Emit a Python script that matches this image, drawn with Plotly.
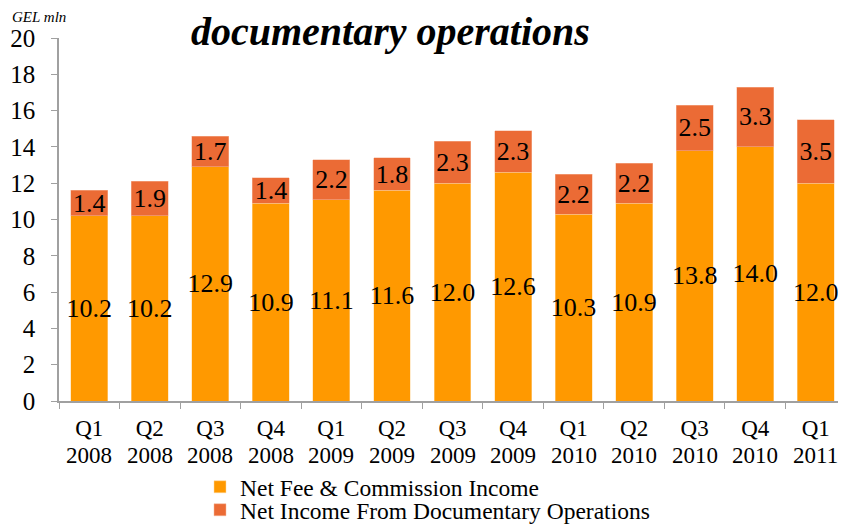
import plotly.graph_objects as go

quarters = ["Q1", "Q2", "Q3", "Q4", "Q1", "Q2", "Q3", "Q4", "Q1", "Q2", "Q3", "Q4", "Q1"]
years = ["2008", "2008", "2008", "2008", "2009", "2009", "2009", "2009",
         "2010", "2010", "2010", "2010", "2011"]
fee_income = [10.2, 10.2, 12.9, 10.9, 11.1, 11.6, 12.0, 12.6, 10.3, 10.9, 13.8, 14.0, 12.0]
doc_income = [1.4, 1.9, 1.7, 1.4, 2.2, 1.8, 2.3, 2.3, 2.2, 2.2, 2.5, 3.3, 3.5]

categories = [q + " " + y for q, y in zip(quarters, years)]
serif = "Liberation Serif"

# the page body has an 8px margin, so the figure is drawn 8px smaller
W, H = 838, 517

fig = go.Figure()
fig.add_trace(go.Bar(
    name="Net Fee & Commission Income", x=categories, y=fee_income,
    marker=dict(color="#FF9900", line=dict(width=0.5, color="#FFD9A0")),
    text=[f"{v:.1f}" for v in fee_income], textposition="inside",
    insidetextanchor="middle", textangle=0, constraintext="none",
    textfont=dict(family=serif, size=26, color="black"),
    legend="legend",
))
fig.add_trace(go.Bar(
    name="Net Income From Documentary Operations", x=categories, y=doc_income,
    marker=dict(color="#EB6B35", line=dict(width=0.5, color="#F5B89C")),
    text=[f"{v:.1f}" for v in doc_income], textposition="inside",
    insidetextanchor="middle", textangle=0, constraintext="none",
    textfont=dict(family=serif, size=26, color="black"),
    legend="legend2",
))

# year line under each quarter label
year_notes = [
    dict(text=y, x=c, xref="x", yref="paper", y=0, yanchor="middle", yshift=-54,
         showarrow=False, font=dict(family=serif, size=23, color="black"))
    for c, y in zip(categories, years)
]

legend_style = dict(
    xref="container", yref="container", xanchor="left", yanchor="top",
    orientation="v", font=dict(family=serif, size=23.5, color="black"),
    itemwidth=30, bgcolor="rgba(0,0,0,0)",
)

fig.update_layout(
    barmode="stack",
    bargap=0.39,
    width=W, height=H,
    margin=dict(l=51, r=0, t=30, b=124, autoexpand=False),
    plot_bgcolor="white", paper_bgcolor="white",
    font=dict(family=serif, color="black"),
    showlegend=True,
    legend=dict(x=192 / W, y=1 - 457 / H, **legend_style),
    legend2=dict(x=192 / W, y=1 - 480 / H, **legend_style),
    xaxis=dict(
        automargin=False,
        showline=True, linecolor="#A0A0A0", linewidth=1.5,
        ticks="outside", tickson="boundaries", ticklen=6, tickcolor="#A0A0A0",
        tickvals=categories, ticktext=quarters, ticklabelstandoff=6,
        tickfont=dict(family=serif, size=23, color="black"),
        showgrid=False,
    ),
    yaxis=dict(
        automargin=False,
        range=[0, 20], dtick=2,
        showline=True, linecolor="#A0A0A0", linewidth=1.5,
        ticks="outside", ticklen=6, tickcolor="#A0A0A0",
        ticklabelstandoff=11,
        tickfont=dict(family=serif, size=25, color="black"),
        showgrid=False, zeroline=False,
    ),
    annotations=year_notes + [
        dict(text="<b><i>documentary operations</i></b>", xref="paper", yref="paper",
             x=(382 - 51) / 787, y=1 + 30 / 363, xanchor="center", yanchor="top",
             showarrow=False, borderpad=0,
             font=dict(family=serif, size=40, color="black")),
        dict(text="<i>GEL mln</i>", xref="paper", yref="paper",
             x=(3 - 51) / 787, y=1 + 30 / 363, xanchor="left", yanchor="top",
             showarrow=False, borderpad=0,
             font=dict(family=serif, size=15, color="black")),
    ],
)

fig.write_html("out.html")
